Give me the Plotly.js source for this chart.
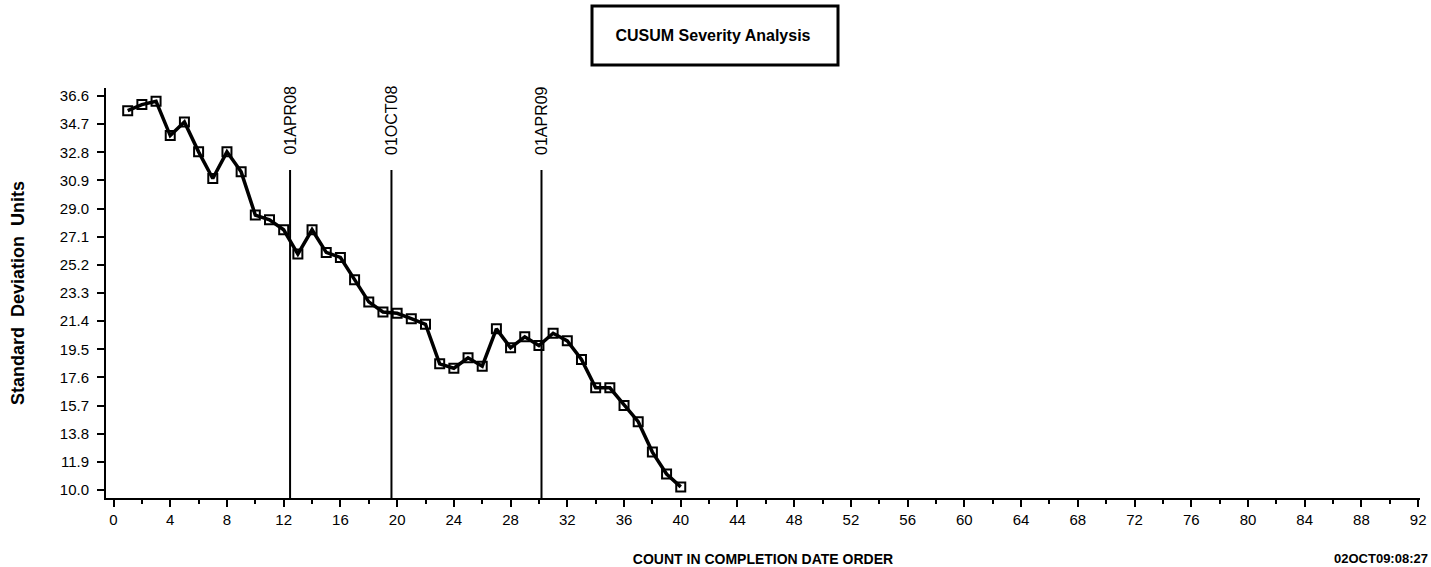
<!DOCTYPE html>
<html>
<head>
<meta charset="utf-8">
<script src="https://cdn.plot.ly/plotly-3.0.1.min.js"></script>
<style>html,body{margin:0;padding:0;background:#fff;}#chart{width:1431px;height:567px;}</style>
</head>
<body>
<div id="chart"></div>
<script>
// ---- data ----
const counts = [1,2,3,4,5,6,7,8,9,10,11,12,13,14,15,16,17,18,19,20,21,22,23,24,25,26,27,28,29,30,31,32,33,34,35,36,37,38,39,40];
const cusum = [35.61,36.02,36.24,33.93,34.85,32.83,31.03,32.83,31.48,28.56,28.24,27.57,25.93,27.57,26.04,25.70,24.20,22.70,22.02,21.93,21.57,21.19,18.52,18.22,18.93,18.36,20.88,19.60,20.34,19.75,20.58,20.07,18.81,16.90,16.90,15.71,14.61,12.56,11.08,10.21];
const eventLabels = ["01APR08","01OCT08","01APR09"];
const eventCounts = [12.45, 19.6, 30.18];
const yTicks = [10.0,11.9,13.8,15.7,17.6,19.5,21.4,23.3,25.2,27.1,29.0,30.9,32.8,34.7,36.6];
const yTickText = ["10.0","11.9","13.8","15.7","17.6","19.5","21.4","23.3","25.2","27.1","29.0","30.9","32.8","34.7","36.6"];
const titleText = "CUSUM Severity Analysis";
const xTitle = "COUNT IN COMPLETION DATE ORDER";
const yTitle = "Standard\u00a0 Deviation\u00a0 Units";
const stamp = "02OCT09:08:27";

const sans = "Liberation Sans, Arial, sans-serif";

const trace = {
  x: counts, y: cusum, type: 'scatter', mode: 'lines+markers',
  line: {color: '#000', width: 3.5},
  marker: {symbol: 'square-open', size: 9, color: '#000', line: {width: 2, color: '#000'}},
  hoverinfo: 'skip'
};

const shapes = eventCounts.map(c => ({
  type: 'line', xref: 'x', yref: 'y', x0: c, x1: c, y0: 9.46, y1: 31.6,
  line: {color: '#000', width: 2}, layer: 'below'
}));
shapes.push({
  type: 'rect', xref: 'paper', yref: 'paper',
  x0: (592-106)/1314, x1: (838-106)/1314,
  y0: (498-65)/410, y1: (498-6)/410,
  line: {color: '#000', width: 3}, fillcolor: 'rgba(0,0,0,0)'
});

const annotations = eventLabels.map((t, i) => ({
  text: t, x: eventCounts[i], xref: 'x', y: (498-157)/410, yref: 'paper',
  xanchor: 'center', yanchor: 'bottom', textangle: -90, showarrow: false,
  font: {family: sans, size: 16, color: '#000'}
}));
annotations.push({
  text: stamp, xref: 'paper', yref: 'paper', x: (1430-106)/1314, y: (498-558)/410,
  xanchor: 'right', yanchor: 'middle', showarrow: false,
  font: {family: sans, size: 13, color: '#000', weight: 'bold'}
});

const layout = {
  width: 1431, height: 567,
  margin: {l: 106, r: 11, t: 88, b: 69},
  paper_bgcolor: '#fff', plot_bgcolor: '#fff',
  showlegend: false,
  title: {text: titleText, x: 713/1431, xref: 'container', xanchor: 'center',
          y: 1 - 35/567, yref: 'container', yanchor: 'middle',
          font: {family: sans, size: 16, color: '#000', weight: 'bold'}},
  xaxis: {
    range: [-0.53, 92.13], tick0: 0, dtick: 4, ticks: 'outside', ticklen: 7, tickwidth: 2,
    tickcolor: '#000', showline: true, linecolor: '#000', linewidth: 2, showgrid: false, zeroline: false,
    tickfont: {family: sans, size: 15, color: '#000'},
    minor: {tick0: 0, dtick: 2, ticks: 'outside', ticklen: 4, tickwidth: 2, tickcolor: '#000', showgrid: false},
    title: {text: xTitle, standoff: 30, font: {family: sans, size: 14, color: '#000', weight: 'bold'}}
  },
  yaxis: {
    range: [9.46, 37.14], tickvals: yTicks, ticktext: yTickText, ticks: 'outside', ticklen: 7, tickwidth: 2,
    tickcolor: '#000', showline: true, linecolor: '#000', linewidth: 2, showgrid: false, zeroline: false,
    ticklabelstandoff: 5,
    tickfont: {family: sans, size: 15, color: '#000'},
    title: {text: yTitle, standoff: 30, font: {family: sans, size: 18, color: '#000', weight: 'bold'}}
  },
  shapes: shapes,
  annotations: annotations
};

Plotly.newPlot('chart', [trace], layout, {displayModeBar: false, staticPlot: true});
</script>
</body>
</html>
